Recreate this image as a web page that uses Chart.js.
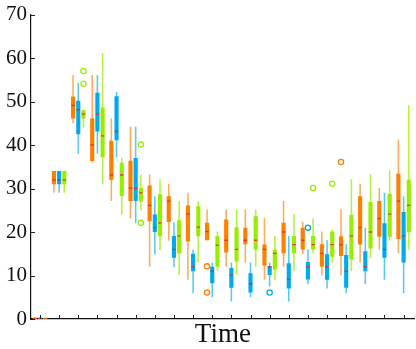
<!DOCTYPE html>
<html lang="en">
<head>
<meta charset="UTF-8" />
<title>Box plots over time</title>
<script src="https://cdn.jsdelivr.net/npm/chart.js"></script>
<style>
  html, body { margin: 0; padding: 0; overflow: hidden; background: #fff; }
  canvas { display: block; }
</style>
</head>
<body>
<canvas id="boxChart" width="420" height="349"></canvas>
<script>
const timePoints = [0, 1, 2, 3, 4, 5, 6, 7, 8, 9, 10, 11, 12, 13, 14, 15, 16, 17, 18, 19];
const yTicks = [0, 10, 20, 30, 40, 50, 60, 70];

// orange series
const orangeMin = [0, 29, 45, 36, 27.1, 23.1, 12, 18, 9, 18.1, 12, 13, 9, 12, 14.9, 10, 10, 13, 16, 15.1];
const orangeQ1 = [0, 31, 46.1, 36.3, 32, 27.1, 22.5, 22.3, 17.8, 18.1, 15.3, 17.2, 12.3, 15.1, 16, 12, 14.5, 17.1, 18.9, 18.4];
const orangeMed = [0, 32, 49.1, 40, 33.1, 30.1, 26.1, 27.1, 24.1, 20.1, 18.1, 18.1, 16, 20, 18.1, 15.1, 17.1, 21, 23.1, 27.1];
const orangeQ3 = [0, 34, 51.1, 46.1, 41, 36.4, 30.7, 28.2, 26.1, 22.1, 22.9, 21, 17.1, 22.1, 21, 17.2, 19, 28.2, 27.1, 33.4];
const orangeMax = [0, 34, 56.1, 56.1, 46.1, 44.2, 33.2, 31.1, 29, 25.2, 25.2, 25.2, 23.2, 27.1, 22.3, 20.1, 25.2, 31.1, 30.1, 41.2];
const orangeOutliers = [[9, 12.1], [9, 6.1], [16, 36.1]];

// blue series
const blueMin = [0, 29, 38, 38, 37.1, 22, 14.9, 11.9, 5.9, 5, 4, 5, 7.5, 4, 8, 7, 5.9, 8, 9, 5.9];
const blueQ1 = [0, 31, 42.5, 43.1, 41.1, 27.1, 20, 14.1, 11, 8.2, 7.2, 6.1, 10.1, 7, 9.1, 9, 7.2, 11, 14.1, 13];
const blueMed = [0, 32, 48.1, 47.1, 43.1, 30.1, 21, 16, 12, 11, 10.1, 8.1, 12, 9.1, 12, 12, 11, 12, 16, 19.1];
const blueQ3 = [0, 34, 50.2, 52, 51.2, 37, 24, 19.1, 15, 12, 11.7, 10.5, 12.2, 12.8, 13.1, 14.9, 14.7, 15.6, 22, 24.6];
const blueMax = [0, 34, 54.2, 56.1, 52.2, 44.2, 28.2, 22.2, 16, 13, 13, 13, 13, 19.1, 16, 18.1, 17.2, 21, 29, 28.2];
const blueOutliers = [[12, 6.1], [14, 21]];

// green series
const greenMin = [0, 29, 44.1, 31.1, 24, 25, 15.9, 10.1, 13, 11, 10.1, 12, 9, 11, 15.1, 13, 11, 14, 18, 16];
const greenQ1 = [0, 31, 46.1, 37.2, 28.3, 27, 19, 15.1, 19, 12, 13.2, 16, 11.4, 15.1, 16, 14.3, 13.7, 16.2, 18.9, 20];
const greenMed = [0, 32, 47.1, 42.1, 33.1, 29, 22.1, 19.1, 21.1, 17, 16, 18.1, 15.1, 17.1, 17.1, 17.1, 19.1, 20, 24.1, 26.1];
const greenQ3 = [0, 34, 48, 48.6, 35.9, 30.1, 28.7, 22.7, 25.9, 19, 21.1, 23.6, 16, 19.1, 19.1, 20.1, 23.9, 26.9, 28.8, 32];
const greenMax = [0, 34, 48, 61.1, 37.1, 33.2, 32.1, 27.1, 27.1, 20.1, 25.2, 25.2, 19.1, 24.1, 23.1, 20.5, 32.1, 33.2, 34.2, 49.2];
const greenOutliers = [[2, 57], [2, 54.1], [5, 40.1], [5, 22.1], [14, 30.1], [15, 31.1]];

const series = [
  { name: 'orange', color: '#ff8000', whisker: 'rgba(255,128,0,0.65)',
    min: orangeMin, q1: orangeQ1, med: orangeMed, q3: orangeQ3, max: orangeMax, out: orangeOutliers },
  { name: 'blue', color: '#00aaee', whisker: 'rgba(0,170,238,0.65)',
    min: blueMin, q1: blueQ1, med: blueMed, q3: blueQ3, max: blueMax, out: blueOutliers },
  { name: 'green', color: '#99ee00', whisker: 'rgba(153,238,0,0.75)',
    min: greenMin, q1: greenQ1, med: greenMed, q3: greenQ3, max: greenMax, out: greenOutliers }
];

const catPct = 0.814;
const medianColor = 'rgba(235,30,20,0.85)';
const serif = 'Liberation Serif, Times New Roman, serif';

const datasets = [];
series.forEach((s, k) => {
  // median mark
  datasets.push({
    type: 'bar', stack: s.name, order: 1,
    data: timePoints.map((t, i) => ({ x: t, y: [s.med[i] - 0.15, s.med[i] + 0.15] })),
    backgroundColor: medianColor, barPercentage: 0.65, categoryPercentage: catPct
  });
  // box q1..q3
  datasets.push({
    type: 'bar', stack: s.name, order: 2, minBarLength: 1.5,
    data: timePoints.map((t, i) => ({ x: t, y: [s.q1[i], s.q3[i]] })),
    backgroundColor: s.color, barPercentage: 0.8, categoryPercentage: catPct
  });
  // whisker min..max
  datasets.push({
    type: 'bar', stack: s.name, order: 3,
    data: timePoints.map((t, i) => ({ x: t, y: [s.min[i], s.max[i]] })),
    backgroundColor: s.whisker, barPercentage: 0.3, categoryPercentage: catPct
  });
  // outliers, shifted into the series slot
  datasets.push({
    type: 'scatter', order: 0,
    data: s.out.map(([t, v]) => ({ x: t + (k - 1) * catPct / 3, y: v })),
    pointRadius: 2.6, borderWidth: 1.3, borderColor: s.color, backgroundColor: 'rgba(0,0,0,0)'
  });
});

const innerTicks = {
  id: 'innerTicks',
  afterDraw(chart) {
    const { ctx, chartArea, scales: { x, y } } = chart;
    ctx.save();
    ctx.strokeStyle = '#222';
    ctx.lineWidth = 1;
    ctx.beginPath();
    timePoints.forEach(t => {
      const px = Math.round(x.getPixelForValue(t)) + 0.5;
      ctx.moveTo(px, chartArea.bottom);
      ctx.lineTo(px, chartArea.bottom - 4);
    });
    yTicks.forEach(v => {
      const py = Math.round(y.getPixelForValue(v)) + 0.5;
      ctx.moveTo(chartArea.left, py);
      ctx.lineTo(chartArea.left + 4, py);
    });
    ctx.stroke();
    ctx.restore();
  }
};

new Chart(document.getElementById('boxChart'), {
  type: 'bar',
  data: { datasets: datasets },
  options: {
    responsive: false,
    animation: false,
    layout: { padding: { top: 11, right: 1, left: 0, bottom: 0 } },
    plugins: { legend: { display: false }, tooltip: { enabled: false } },
    scales: {
      x: {
        type: 'linear', offset: false, min: -0.47, max: 19.58,
        grid: { display: false, drawTicks: false },
        border: { display: true, color: '#111', width: 1.2 },
        ticks: { display: false, stepSize: 1 },
        title: { display: true, text: 'Time', color: '#111',
                 font: { family: serif, size: 27, lineHeight: 1 }, padding: { top: 0, bottom: 1 } },
        afterFit(scale) { scale.height = 30; }
      },
      y: {
        stacked: false, min: 0, max: 70,
        grid: { display: false, drawTicks: false },
        border: { display: true, color: '#111', width: 1.2 },
        ticks: { stepSize: 10, padding: 4, color: '#111', font: { family: serif, size: 21, lineHeight: 1 } },
        afterFit(scale) { scale.width = 31; }
      }
    }
  },
  plugins: [innerTicks]
});
</script>
</body>
</html>
